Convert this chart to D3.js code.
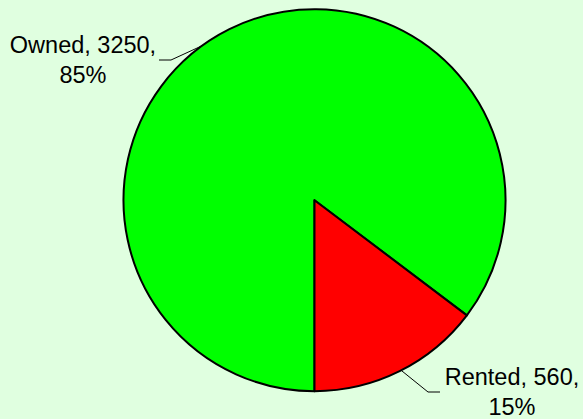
<!DOCTYPE html>
<html>
<head>
<meta charset="utf-8">
<script src="https://cdn.jsdelivr.net/npm/d3@7"></script>
<style>
  html, body { margin: 0; padding: 0; background: #E0FFE0; }
  svg { display: block; }
  .label { font-family: Arial, "Liberation Sans", sans-serif; font-size: 23.5px; fill: #000; }
</style>
</head>
<body>
<div id="chart"></div>
<script>
// Chart values.
const categories = ["Owned", "Rented"];
const counts = [3250, 560];
const percentLabels = ["85%", "15%"];
const sliceColors = ["#00FF00", "#FF0000"];

const WIDTH = 583;
const HEIGHT = 419;
const CENTER = { x: 314.5, y: 200.2 };
const RADIUS = 191;

// Label placement: text centre, first baseline, leader elbow and where the leader meets the pie.
const LABEL_LAYOUT = [
  { tx: 83, ty: 53, elbowX: 171, elbowY: 60, endX: 159, leaderAngle: 324 },
  { tx: 512, ty: 385, elbowX: 428, elbowY: 392, endX: 440, leaderAngle: 153 }
];

const data = categories.map((c, i) => ({ name: c, value: counts[i], pct: percentLabels[i], color: sliceColors[i] }));

const svg = d3.select("#chart").append("svg")
  .attr("width", WIDTH)
  .attr("height", HEIGHT);

svg.append("rect")
  .attr("width", WIDTH)
  .attr("height", HEIGHT)
  .attr("fill", "#E0FFE0");

// Excel style: first slice starts at 180 degrees and runs clockwise.
const pie = d3.pie()
  .sort(null)
  .value(d => d.value)
  .startAngle(Math.PI)
  .endAngle(3 * Math.PI);

const arc = d3.arc().innerRadius(0).outerRadius(RADIUS);

const g = svg.append("g")
  .attr("transform", "translate(" + CENTER.x + "," + CENTER.y + ")");

g.selectAll("path")
  .data(pie(data))
  .enter().append("path")
  .attr("d", arc)
  .attr("fill", d => d.data.color)
  .attr("stroke", "#000")
  .attr("stroke-width", 2)
  .attr("stroke-linejoin", "round");

// Leader lines and labels.
data.forEach((d, i) => {
  const L = LABEL_LAYOUT[i];
  const a = L.leaderAngle * Math.PI / 180;
  const sx = CENTER.x + RADIUS * Math.sin(a);
  const sy = CENTER.y - RADIUS * Math.cos(a);
  svg.append("polyline")
    .attr("points", [[sx, sy], [L.elbowX, L.elbowY], [L.endX, L.elbowY]].map(p => p.join(",")).join(" "))
    .attr("fill", "none")
    .attr("stroke", "#000")
    .attr("stroke-width", 1);

  const t = svg.append("text")
    .attr("class", "label")
    .attr("text-anchor", "middle")
    .attr("x", L.tx)
    .attr("y", L.ty);
  t.append("tspan").attr("x", L.tx).text(d.name + ", " + d.value + ",");
  t.append("tspan").attr("x", L.tx).attr("dy", 30).text(d.pct);
});
</script>
</body>
</html>
